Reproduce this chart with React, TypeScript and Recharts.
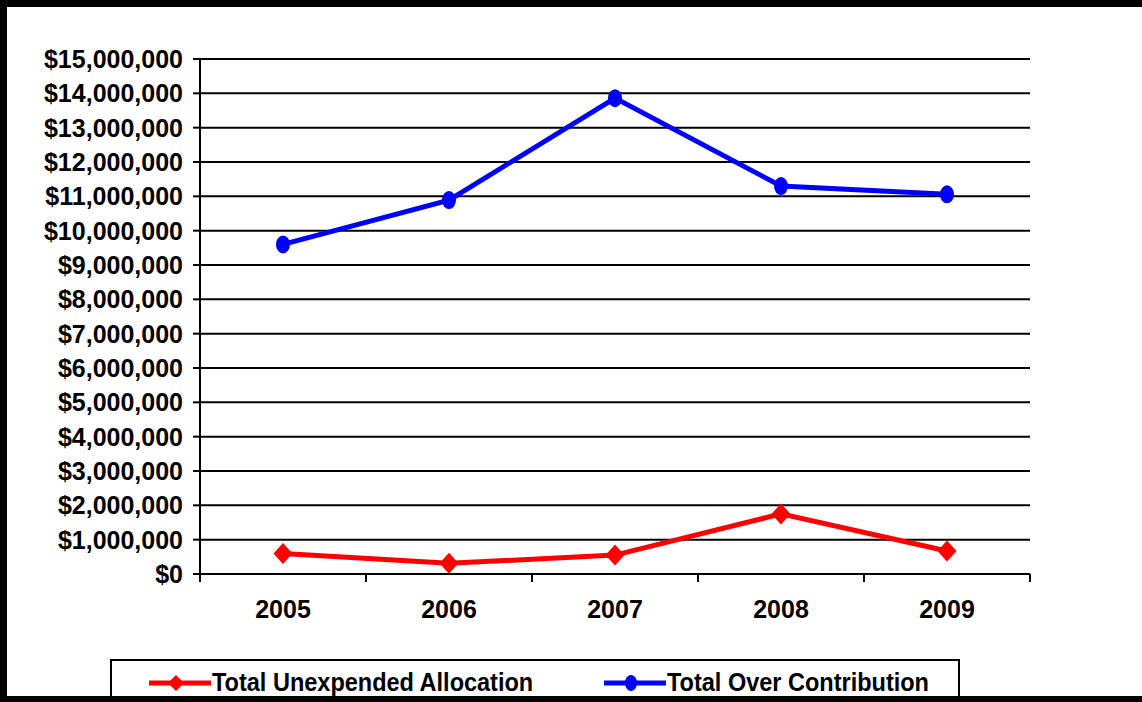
import React from 'react';
import { LineChart, Line, XAxis, YAxis, CartesianGrid } from 'recharts';

const years = ['2005', '2006', '2007', '2008', '2009'];
const unexpendedAllocation = [600000, 310000, 550000, 1750000, 670000];
const overContribution = [9600000, 10890000, 13860000, 11300000, 11060000];
const yTicks = [0, 1000000, 2000000, 3000000, 4000000, 5000000, 6000000, 7000000, 8000000, 9000000, 10000000, 11000000, 12000000, 13000000, 14000000, 15000000];

const RED = '#ff0000';
const BLUE = '#0000ff';
const FONT = '"Liberation Sans", Arial, sans-serif';

// years sit in the middle of each slot, tick marks on the slot edges
const chartData = years.map((year, i) => ({
  pos: i + 0.5,
  year,
  unexpended: unexpendedAllocation[i],
  over: overContribution[i],
}));
const xTicks = years.flatMap((_, i) => [i, i + 0.5]).concat(years.length);

const money = (v: number) => '$' + v.toLocaleString('en-US');

const XTick = (props: any) => {
  const { x, y, payload } = props;
  const v = payload.value as number;
  if (Number.isInteger(v)) {
    return <line x1={x} x2={x} y1={y} y2={y + 8} stroke="#000" strokeWidth={2} />;
  }
  return (
    <text x={x} y={y + 26} dy="0.71em" textAnchor="middle" fontFamily={FONT} fontWeight="bold" fontSize={25} fill="#000">
      {years[Math.floor(v)]}
    </text>
  );
};

const Diamond = (props: any) => {
  const { cx, cy } = props;
  if (cx == null || cy == null) return null;
  return <polygon points={`${cx},${cy - 10.5} ${cx + 9.5},${cy} ${cx},${cy + 10.5} ${cx - 9.5},${cy}`} fill={RED} />;
};

const Oval = (props: any) => {
  const { cx, cy } = props;
  if (cx == null || cy == null) return null;
  return <ellipse cx={cx} cy={cy} rx={7} ry={9} fill={BLUE} />;
};

const LegendItem = ({ color, label, marker, left }: { color: string; label: string; marker: 'diamond' | 'oval'; left: number }) => (
  <div style={{ position: 'absolute', left, top: 7, display: 'flex', alignItems: 'center', whiteSpace: 'nowrap' }}>
    <svg width={64} height={24}>
      <line x1={1} x2={63} y1={12} y2={12} stroke={color} strokeWidth={5} />
      {marker === 'diamond'
        ? <polygon points="28,4 36,12 28,20 20,12" fill={color} />
        : <ellipse cx={28} cy={12} rx={6} ry={8} fill={color} />}
    </svg>
    <span style={{ display: 'inline-block', fontFamily: FONT, fontWeight: 'bold', fontSize: 25, color: '#000', transform: 'scaleX(0.94)', transformOrigin: 'left center' }}>{label}</span>
  </div>
);

export default function App() {
  return (
    <div style={{ position: 'absolute', left: 0, top: 0, width: 1142, height: 702, background: '#fff', overflow: 'hidden' }}>
      <LineChart width={1142} height={702} data={chartData} margin={{ top: 59, right: 112, left: 0, bottom: 68 }}>
        <CartesianGrid vertical={false} stroke="#000" strokeWidth={2} />
        <XAxis
          type="number"
          dataKey="pos"
          domain={[0, years.length]}
          ticks={xTicks}
          interval={0}
          height={60}
          tickLine={false}
          tickSize={0}
          tickMargin={0}
          tick={<XTick />}
          axisLine={{ stroke: '#000', strokeWidth: 2 }}
        />
        <YAxis
          width={200}
          domain={[0, 15000000]}
          ticks={yTicks}
          interval={0}
          tickFormatter={money}
          tickSize={7}
          tickMargin={10}
          tickLine={{ stroke: '#000', strokeWidth: 2 }}
          axisLine={{ stroke: '#000', strokeWidth: 2 }}
          tick={{ fill: '#000', fontFamily: FONT, fontWeight: 'bold', fontSize: 25 }}
        />
        <Line dataKey="unexpended" name="Total Unexpended Allocation" stroke={RED} strokeWidth={5} dot={<Diamond />} activeDot={false} isAnimationActive={false} />
        <Line dataKey="over" name="Total Over Contribution" stroke={BLUE} strokeWidth={5} dot={<Oval />} activeDot={false} isAnimationActive={false} />
      </LineChart>

      <div style={{ position: 'absolute', left: 110, top: 659, width: 850, height: 50, border: '2px solid #000', boxSizing: 'border-box' }}>
        <LegendItem color={RED} label="Total Unexpended Allocation" marker="diamond" left={36} />
        <LegendItem color={BLUE} label="Total Over Contribution" marker="oval" left={491} />
      </div>

      <div style={{ position: 'absolute', left: 0, top: 0, width: 1142, height: 702, boxSizing: 'border-box', borderLeft: '7px solid #000', borderTop: '7px solid #000', borderBottom: '6px solid #000', pointerEvents: 'none' }} />
    </div>
  );
}
